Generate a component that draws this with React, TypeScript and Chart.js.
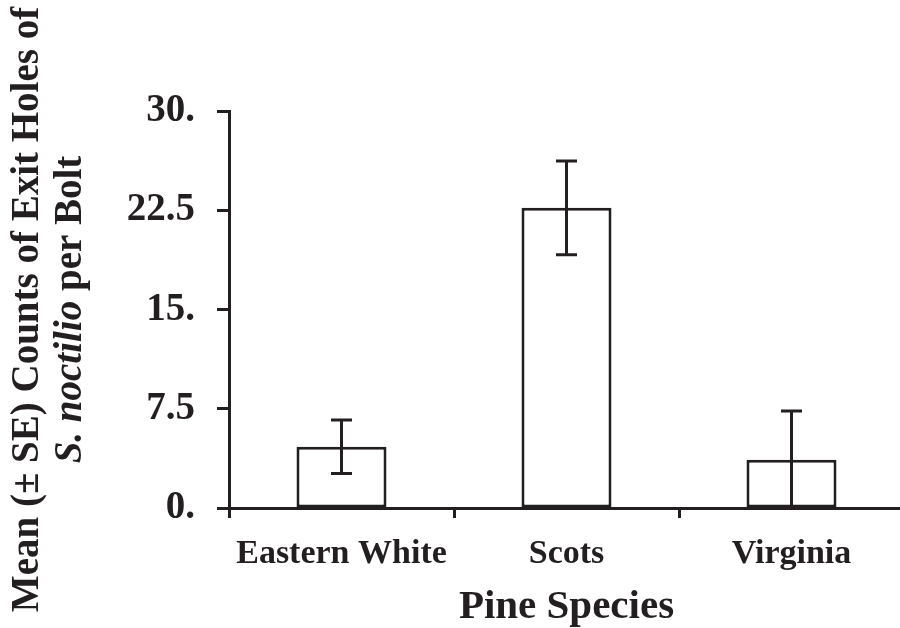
import React, { useEffect, useRef } from "react";
import { Chart, registerables } from "chart.js";

Chart.register(...registerables);

const categories = ["Eastern White", "Scots", "Virginia"];
const means = [4.63, 22.68, 3.65];
const errors = [2.02, 3.55, 3.68];
const yTickValues = [0, 7.5, 15, 22.5, 30];
const yTickLabels = ["0.", "7.5", "15.", "22.5", "30."];
const yTitleLine1 = "Mean (\u00B1 SE) Counts of Exit Holes of";
const yTitleLine2Italic = "S. noctilio";
const yTitleLine2Rest = " per Bolt";
const xTitle = "Pine Species";

const INK = "#231f20";
const FONT = '"Liberation Serif", "Times New Roman", serif';

const errorBarPlugin = {
  id: "errorBars",
  afterDatasetsDraw(chart: any) {
    const ctx = chart.ctx;
    const meta = chart.getDatasetMeta(0);
    const y = chart.scales.y;
    ctx.save();
    ctx.strokeStyle = INK;
    ctx.lineWidth = 3;
    const cap = 10.5;
    meta.data.forEach((bar: any, i: number) => {
      const x = bar.x;
      const top = y.getPixelForValue(means[i] + errors[i]);
      const bot = y.getPixelForValue(Math.max(0, means[i] - errors[i]));
      ctx.beginPath();
      ctx.moveTo(x, top);
      ctx.lineTo(x, bot);
      ctx.moveTo(x - cap, top);
      ctx.lineTo(x + cap, top);
      ctx.moveTo(x - cap, bot);
      ctx.lineTo(x + cap, bot);
      ctx.stroke();
    });
    ctx.restore();
  },
};

const yTitlePlugin = {
  id: "yTitleRich",
  afterDraw(chart: any) {
    const ctx = chart.ctx;
    const ys = chart.scales.y;
    const area = chart.chartArea;
    const cy = (area.top + area.bottom) / 2;
    const fB = `bold 39px ${FONT}`;
    const fI = `italic bold 39px ${FONT}`;
    ctx.save();
    ctx.fillStyle = INK;
    ctx.textBaseline = "middle";
    ctx.translate(ys.left + 28, cy);
    ctx.rotate(-Math.PI / 2);
    ctx.font = fB;
    ctx.textAlign = "center";
    ctx.fillText(yTitleLine1, 0, 0);
    ctx.restore();

    ctx.save();
    ctx.fillStyle = INK;
    ctx.textBaseline = "middle";
    ctx.translate(ys.left + 71, cy);
    ctx.rotate(-Math.PI / 2);
    ctx.textAlign = "left";
    ctx.font = fI;
    const wI = ctx.measureText(yTitleLine2Italic).width;
    ctx.font = fB;
    const wR = ctx.measureText(yTitleLine2Rest).width;
    const start = -(wI + wR) / 2;
    ctx.font = fI;
    ctx.fillText(yTitleLine2Italic, start, 0);
    ctx.font = fB;
    ctx.fillText(yTitleLine2Rest, start + wI, 0);
    ctx.restore();
  },
};

export default function App() {
  const ref = useRef<HTMLCanvasElement>(null);
  useEffect(() => {
    if (!ref.current) return;
    const chart = new Chart(ref.current, {
      type: "bar",
      data: {
        labels: categories,
        datasets: [
          {
            data: means,
            backgroundColor: "#ffffff",
            borderColor: INK,
            borderWidth: 3,
            borderSkipped: false,
            barPercentage: 0.4,
            categoryPercentage: 1,
          },
        ],
      },
      options: {
        responsive: false,
        animation: false,
        events: [],
        layout: { padding: { top: 111, left: 0, right: 0, bottom: 0 } },
        plugins: {
          legend: { display: false },
          tooltip: { enabled: false },
          title: { display: false },
        },
        scales: {
          x: {
            afterFit(scale: any) {
              scale.height = 120;
            },
            grid: {
              offset: true,
              drawOnChartArea: false,
              tickLength: 10,
              tickWidth: 3,
              tickColor: INK,
            },
            border: { display: true, color: INK, width: 3 },
            ticks: {
              color: INK,
              padding: 16,
              font: { family: FONT, size: 34, weight: "bold" },
            },
            title: {
              display: true,
              text: xTitle,
              color: INK,
              padding: { top: 0, bottom: 0 },
              font: { family: FONT, size: 41, weight: "bold", lineHeight: 1 },
            },
          },
          y: {
            min: 0,
            max: 30,
            afterFit(scale: any) {
              scale.width = 229;
            },
            afterBuildTicks(scale: any) {
              scale.ticks = yTickValues.map((v) => ({ value: v }));
            },
            grid: {
              drawOnChartArea: false,
              tickLength: 12,
              tickWidth: 3,
              tickColor: INK,
            },
            border: { display: true, color: INK, width: 3 },
            ticks: {
              color: INK,
              padding: 22,
              font: { family: FONT, size: 39, weight: "bold" },
              callback(value: any) {
                const i = yTickValues.indexOf(Number(value));
                return i >= 0 ? yTickLabels[i] : "";
              },
            },
          },
        },
      },
      plugins: [errorBarPlugin, yTitlePlugin],
    });
    return () => chart.destroy();
  }, []);
  return (
    <div style={{ position: "fixed", left: 0, top: 0, width: 904, height: 628, background: "#fff" }}>
      <canvas ref={ref} width={904} height={628} />
    </div>
  );
}
